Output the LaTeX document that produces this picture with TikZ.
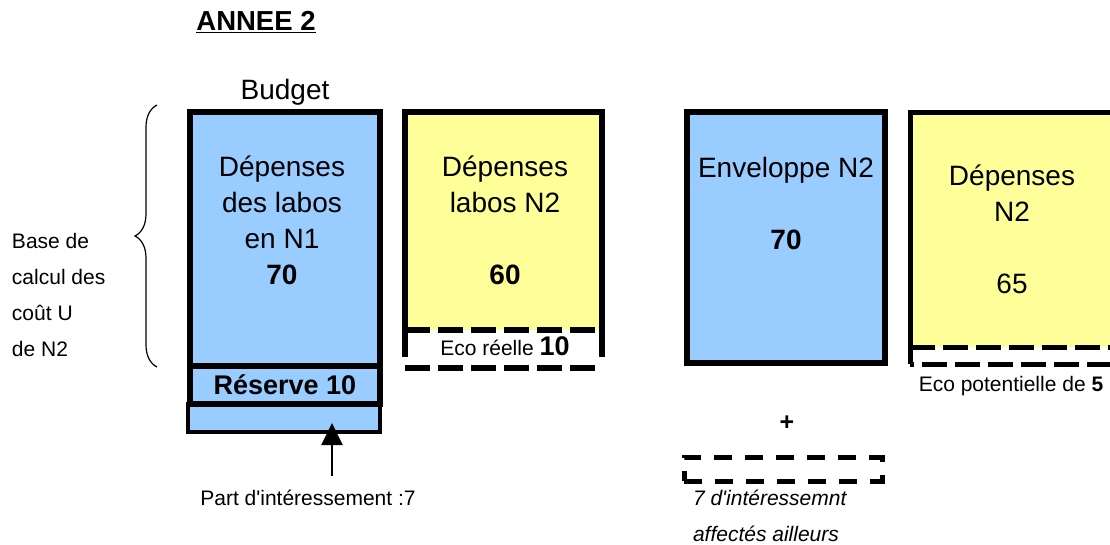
\documentclass[tikz,border=0pt]{standalone}
\usepackage{fontspec}
\setmainfont{Liberation Sans}
\usetikzlibrary{arrows.meta,decorations.pathreplacing}
\definecolor{lblue}{HTML}{99CCFF}
\definecolor{lyellow}{HTML}{FFFF99}

\begin{document}
\begin{tikzpicture}
[x=1pt,y=-1pt]
\tikzstyle{every node}=[inner sep=0pt,outer sep=0pt]
\tikzstyle{big}=[font=\fontsize{28}{36}\selectfont,align=center]
\tikzstyle{small}=[font=\fontsize{21}{36}\selectfont]
\tikzstyle{boxline}=[line width=6pt]
\tikzstyle{dashline}=[line width=6pt,dash pattern=on 25pt off 8pt]
\tikzstyle{bluebox}=[draw,boxline,fill=lblue]
\tikzstyle{yellowbox}=[fill=lyellow]
\useasboundingbox (0,0) rectangle (1110,544);

% titre
\node[font=\fontsize{27.5}{30}\selectfont\bfseries] (titre) at (256,22) {\underline{ANNEE 2}};
\node[big] (budgettxt) at (285,92) {Budget};

% budget
\node[draw,line width=3.5pt,fill=lblue,minimum width=192pt,minimum height=28pt] (interet) at (284,418) {};
\node[bluebox,minimum width=190pt,minimum height=254pt] (budget) at (285,239) {};
\node[bluebox,minimum width=190pt,minimum height=38pt,font=\fontsize{27}{30}\selectfont\bfseries] (reserve) at (285,385) {Réserve 10};
\node[big] (budgettxt) at (282,220) {Dépenses\\des labos\\en N1\\\textbf{70}};

% depenses labos N2
\node[yellowbox,minimum width=197pt,minimum height=218pt] (labos) at (503.5,221) {};
\draw[boxline] (labos.south west) -- (labos.north west) -- (labos.north east) -- (labos.south east);
\draw[dashline] (labos.south west) -- (labos.south east);
\node[minimum width=197pt,minimum height=38pt] (ecoreel) at (503.5,349) {};
\draw[boxline] (ecoreel.north west) -- ++(0,27);
\draw[boxline] (ecoreel.north east) -- ++(0,27);
\draw[dashline] (ecoreel.south west) -- (ecoreel.south east);
\node (ecoreeltxt) at (505,346) {\fontsize{21}{24}\selectfont Eco réelle \fontsize{27}{30}\selectfont\textbf{10}};
\node[big] (labostxt) at (505,220) {Dépenses\\labos N2\\[36pt]\textbf{60}};

% enveloppe N2
\node[bluebox,minimum width=198pt,minimum height=251pt] (enveloppe) at (786,237.5) {};
\node[big] (envtxt) at (786,203) {Enveloppe N2\\[36pt]\textbf{70}};
\node[font=\fontsize{25}{25}\selectfont\bfseries] (plus) at (787,423) {+};
\node[draw,line width=5pt,dash pattern=on 18pt off 13pt,minimum width=198pt,minimum height=24pt] (ailleurs) at (783,469) {};
\node[font=\fontsize{21}{36}\selectfont\itshape,anchor=north west,align=left] (aillerstxt) at (693,490) {7 d\textquotesingle intéressemnt\\affectés ailleurs};

% depenses N2
\node[yellowbox,minimum width=205pt,minimum height=235pt] (depn2) at (1012.5,229.5) {};
\draw[line width=5pt] (depn2.south west) -- (depn2.north west) -- (depn2.north east) -- (depn2.south east);
\draw[line width=5pt,dash pattern=on 25pt off 8pt] (depn2.south west) -- (depn2.south east);
\coordinate (ecopot) at (910,364);
\draw[line width=5pt] (depn2.south west) -- (ecopot);
\draw[line width=5pt,dash pattern=on 25pt off 8pt,dash phase=-12pt] (ecopot) -- ++(205,0);
\node[big] (depn2txt) at (1012,229) {Dépenses\\N2\\[36pt]65};
\node[small] (ecopottxt) at (1011,386) {Eco potentielle de \textbf{5}};

% interessement
\node[small] (parttxt) at (308,498) {Part d\textquotesingle intéressement :7};
\coordinate (partpied) at (332,476);
\coordinate (partpointe) at (332,423);
\draw[line width=2pt,-{Triangle[length=22pt,width=21pt]}] (partpied) -- (partpointe);

% accolade
\coordinate (accbas) at (157,367);
\coordinate (acchaut) at (157,105);
\draw[line width=1.2pt,decorate,decoration={brace,amplitude=22pt}] (accbas) -- (acchaut);
\node[small,anchor=west,align=left] (basetxt) at (12,295) {Base de\\calcul des\\coût U\\de N2};
\end{tikzpicture}
\end{document}
